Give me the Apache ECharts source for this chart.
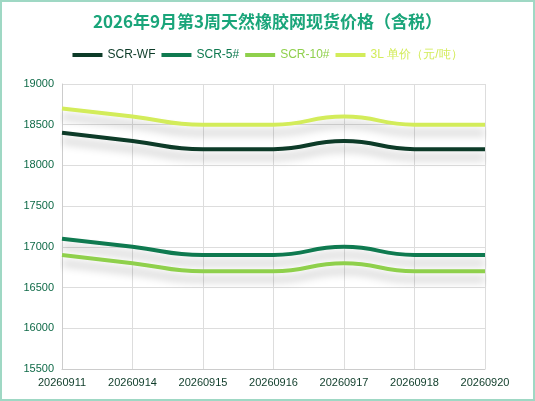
<!DOCTYPE html><html><head><meta charset="utf-8"><script src="https://cdn.jsdelivr.net/npm/echarts@6/dist/echarts.min.js"></script>
<style>html,body{margin:0;padding:0;}#c{width:531px;height:397px;border:2px solid #9fd8c4;}</style></head><body><div id="c"></div><script>
const categories=['20260911','20260914','20260915','20260916','20260917','20260918','20260920'];
const names=['SCR-WF','SCR-5#','SCR-10#','3L 单价（元/吨）'];
const scrWF=[18400,18300,18200,18200,18300,18200,18200];
const scr5=[17100,17000,16900,16900,17000,16900,16900];
const scr10=[16900,16800,16700,16700,16800,16700,16700];
const l3=[18700,18600,18500,18500,18600,18500,18500];
const colors=['#0d3b28','#0f7a50','#8fd04c','#d3ec5a'];
const data=[scrWF,scr5,scr10,l3];
const ch=echarts.init(document.getElementById('c'));
ch.setOption({
 title:{text:'2026年9月第3周天然橡胶网现货价格（含税）',left:'center',top:6,textStyle:{color:'#1aa57a',fontSize:17,fontWeight:'bold',fontFamily:'Noto Sans CJK SC'}},
 legend:{top:42,left:'center',itemWidth:30,itemHeight:4,itemGap:6,icon:'rect',
   data:names.map((n,i)=>({name:n,textStyle:{color:colors[i],fontSize:12}}))},
 grid:{left:60,right:48,top:82,bottom:30},
 xAxis:{type:'category',boundaryGap:false,data:categories,axisLine:{lineStyle:{color:'#ccc'}},axisTick:{show:false},
   axisLabel:{color:'#0d3b28',fontSize:11,interval:0},splitLine:{show:true,lineStyle:{color:'#ddd'}}},
 yAxis:{type:'value',min:15500,max:19000,interval:500,axisLabel:{color:'#0f6a48',fontSize:11,formatter:v=>String(v)},
   axisLine:{show:true,lineStyle:{color:'#ccc'}},splitLine:{lineStyle:{color:'#ddd'}}},
 series:data.map((d,i)=>({name:names[i],type:'line',smooth:true,symbol:'none',data:d,
   lineStyle:{width:4,color:colors[i],shadowColor:'rgba(0,0,0,0.25)',shadowBlur:8,shadowOffsetY:8},itemStyle:{color:colors[i]}}))
});
</script></body></html>
